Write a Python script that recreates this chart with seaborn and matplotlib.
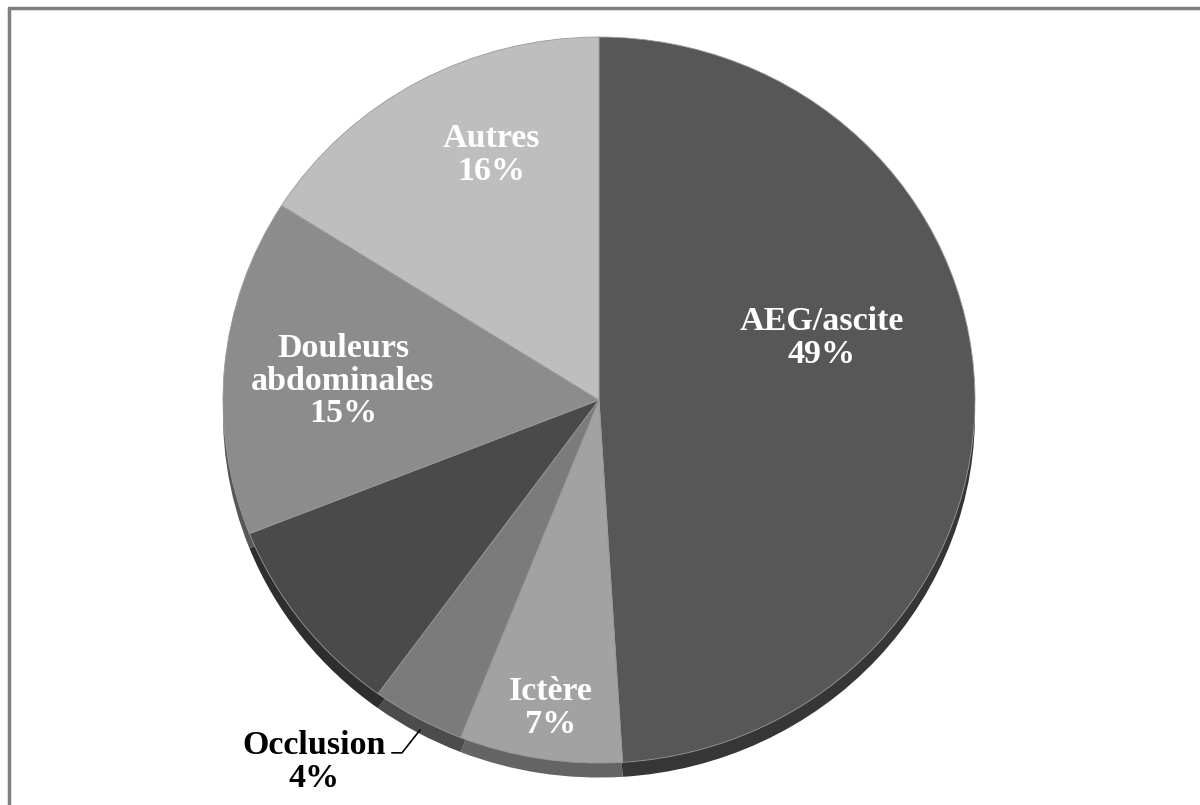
import matplotlib
matplotlib.use("Agg")
import numpy as np
import seaborn as sns
import matplotlib.pyplot as plt
from matplotlib.lines import Line2D

labels = ["AEG/ascite", "Ictère", "Occlusion", "", "Douleurs\nabdominales", "Autres"]
values = [49, 7, 4, 9, 15, 16]
colors = ["#575757", "#a2a2a2", "#7b7b7b", "#4a4a4a", "#8c8c8c", "#bebebe"]
# label centres (axes data units, pie radius = 1)
label_pos = [(0.593, 0.171), (-0.128, -0.848), (-0.758, -0.997), None, (-0.681, 0.052), (-0.287, 0.675)]
label_color = ["white", "white", "black", None, "white", "white"]

sns.set_theme(style="white")
plt.rcParams["font.family"] = ["Liberation Serif", "DejaVu Serif"]

fig = plt.figure(figsize=(12, 8.05), dpi=100)
ax = fig.add_axes([223 / 1200, 0.0296, 752 / 1200, 0.9244])

# dark rim (3d look)
rim = [tuple(c * 0.62 for c in matplotlib.colors.to_rgb(col)) for col in colors]
ax.pie(values, colors=rim, startangle=90, counterclock=False, center=(0, -0.04),
       wedgeprops=dict(linewidth=0))
ax.pie(values, colors=colors, startangle=90, counterclock=False,
       wedgeprops=dict(linewidth=0.6, edgecolor="#9a9a9a"))
ax.set_aspect("auto")
ax.set_xlim(-1, 1)
ax.set_ylim(-1.05, 1)
ax.axis("off")

for lab, v, pos, col in zip(labels, values, label_pos, label_color):
    if pos is None:
        continue
    ax.text(pos[0], pos[1], f"{lab}\n{v}%", ha="center", va="center", color=col,
            fontsize=24.5, fontweight="bold", linespacing=1.07, zorder=5)

# leader line for Occlusion
ax.plot([-0.551, -0.524, -0.476], [-0.972, -0.972, -0.909], color="black", lw=1.2,
        clip_on=False, zorder=5)

# frame (left and top edges visible)
fig.add_artist(Line2D([8.5 / 1200, 8.5 / 1200], [0, 1 - 8.5 / 805], color="#7f7f7f", lw=2.5))
fig.add_artist(Line2D([8.5 / 1200, 1], [1 - 8.5 / 805, 1 - 8.5 / 805], color="#7f7f7f", lw=2.5))

fig.savefig("out.png", dpi=100, facecolor="white")
